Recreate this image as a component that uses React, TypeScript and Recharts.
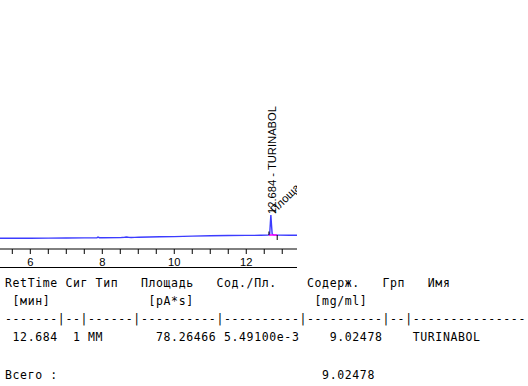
import React from 'react';
import { LineChart, Line, XAxis, YAxis, ReferenceDot, ReferenceLine } from 'recharts';

// Retention time (min) and detector signal (arbitrary units)
const times = [5.158, 5.5, 6.0, 6.5, 7.0, 7.5, 7.85, 7.88, 7.92, 8.0, 8.5, 8.62, 8.68, 8.74, 8.8, 8.9, 9.0, 9.3, 9.6, 10.0, 10.5, 11.0, 11.5, 12.0, 12.4, 12.6, 12.65, 12.67, 12.684, 12.7, 12.72, 12.76, 12.9, 13.2, 13.41];
const signal = [10.7, 10.7, 10.8, 10.9, 11.0, 11.1, 11.2, 11.9, 11.3, 11.3, 11.4, 11.7, 12.0, 11.6, 11.5, 11.6, 11.8, 12.0, 12.2, 12.4, 12.9, 13.3, 13.5, 13.6, 13.7, 13.9, 14.3, 26, 34, 25, 15, 14.1, 13.9, 13.8, 13.7];

const xTicks = [5.5, 6, 6.5, 7, 7.5, 8, 8.5, 9, 9.5, 10, 10.5, 11, 11.5, 12, 12.5, 13];
const labeledTicks = [6, 8, 10, 12];

const peakTime = 12.684;
const peakHeight = 34;
const peakName = 'TURINABOL';
const peakStart = 12.63;
const peakEnd = 12.86;
const peakBase = 14;
const areaLabel = 'Площадь: 78.2647';

// Report table rows: [column, text]
const headerRow: [number, string][] = [[0, 'RetTime'], [8, 'Сиг'], [12, 'Тип'], [18, 'Площадь'], [28, 'Сод./Пл.'], [40, 'Содерж.'], [50, 'Грп'], [56, 'Имя']];
const unitsRow: [number, string][] = [[1, '[мин]'], [19, '[pA*s]'], [41, '[mg/ml]']];
const dashRow: [number, string][] = [[0, '-------|--|------|----------|----------|----------|--|---------------']];
const dataRow: [number, string][] = [[1, '12.684'], [9, '1'], [11, 'MM'], [20, '78.26466'], [29, '5.49100e-3'], [43, '9.02478'], [54, 'TURINABOL']];
const totalRow: [number, string][] = [[0, 'Всего'], [6, ':'], [42, '9.02478']];

const data = times.map((t, i) => ({ t, v: signal[i] }));

const CH = 7.55;
const X0 = 5;
const PLOT_W = 297;
const PLOT_BOTTOM = 249;

function Row({ items, y }: { items: [number, string][]; y: number }) {
  return (
    <g>
      {items.map(([col, txt], k) => {
        const xs = Array.from(txt).map((_, i) => (X0 + (col + i) * CH).toFixed(2)).join(' ');
        return (
          <text key={k} x={xs} y={y} fontFamily="'DejaVu Sans Mono', monospace" fontSize={11.5} fill="#000">
            {txt}
          </text>
        );
      })}
    </g>
  );
}

const AxisTick = (props: any) => {
  const { x, y, payload } = props;
  if (!labeledTicks.includes(payload.value)) return null;
  return (
    <text x={x} y={y} dy={10.2} textAnchor="middle" fontFamily="'Liberation Sans', Arial, sans-serif" fontSize={11.2} fill="#000">
      {payload.value}
    </text>
  );
};

const PeakLabel = (props: any) => {
  const { cx, cy } = props;
  if (cx == null || cy == null) return null;
  const lx = cx + 5.5;
  const ly = cy - 1;
  const ax = cx + 4;
  const ay = cy - 1;
  return (
    <g>
      <defs>
        <clipPath id="peak-label-clip">
          <rect x={0} y={0} width={PLOT_W} height={PLOT_BOTTOM} />
        </clipPath>
      </defs>
      <g clipPath="url(#peak-label-clip)">
        <text x={lx} y={ly} transform={`rotate(-90 ${lx} ${ly})`} fontFamily="'Liberation Sans', Arial, sans-serif" fontSize={11.2} fill="#000">
          {`${peakTime.toFixed(3)} - ${peakName}`}
        </text>
        <text x={ax} y={ay} transform={`rotate(-45 ${ax} ${ay})`} fontFamily="'Liberation Sans', Arial, sans-serif" fontSize={11.2} fill="#000">
          {areaLabel}
        </text>
      </g>
    </g>
  );
};

export default function App() {
  return (
    <div style={{ position: 'absolute', left: 0, top: 0, width: 528, height: 386, background: '#fff' }}>
      <LineChart width={528} height={386} data={data} margin={{ top: 9, right: 528 - PLOT_W, left: 0, bottom: 119 }}>
        <XAxis
          dataKey="t"
          type="number"
          domain={[5.158, 13.41]}
          allowDataOverflow
          ticks={xTicks}
          tick={<AxisTick />}
          tickSize={5}
          tickMargin={2}
          height={18}
          axisLine={{ stroke: '#000', strokeWidth: 1 }}
          tickLine={{ stroke: '#000', strokeWidth: 1 }}
          interval={0}
        />
        <YAxis hide domain={[0, 240]} type="number" />
        <Line type="linear" dataKey="v" stroke="#3c3cff" strokeWidth={1.4} dot={false} isAnimationActive={false} />
        <ReferenceLine segment={[{ x: peakStart, y: peakBase }, { x: peakEnd, y: peakBase }]} stroke="#ff00ff" strokeWidth={1.5} />
        <ReferenceLine segment={[{ x: peakStart, y: peakBase }, { x: peakStart, y: peakBase + 3.5 }]} stroke="#000" strokeWidth={1} />
        <ReferenceLine segment={[{ x: peakEnd, y: peakBase }, { x: peakEnd, y: peakBase - 5 }]} stroke="#000" strokeWidth={1} />
        <ReferenceDot x={peakTime} y={peakHeight} r={0} shape={<PeakLabel />} />
      </LineChart>
      <svg width={528} height={386} style={{ position: 'absolute', left: 0, top: 0, pointerEvents: 'none' }}>
        <line x1={0} x2={PLOT_W} y1={267.5} y2={267.5} stroke="#000" strokeWidth={1} />
        <Row items={headerRow} y={287} />
        <Row items={unitsRow} y={305} />
        <Row items={dashRow} y={322.7} />
        <Row items={dataRow} y={340.5} />
        <Row items={totalRow} y={379} />
      </svg>
    </div>
  );
}
